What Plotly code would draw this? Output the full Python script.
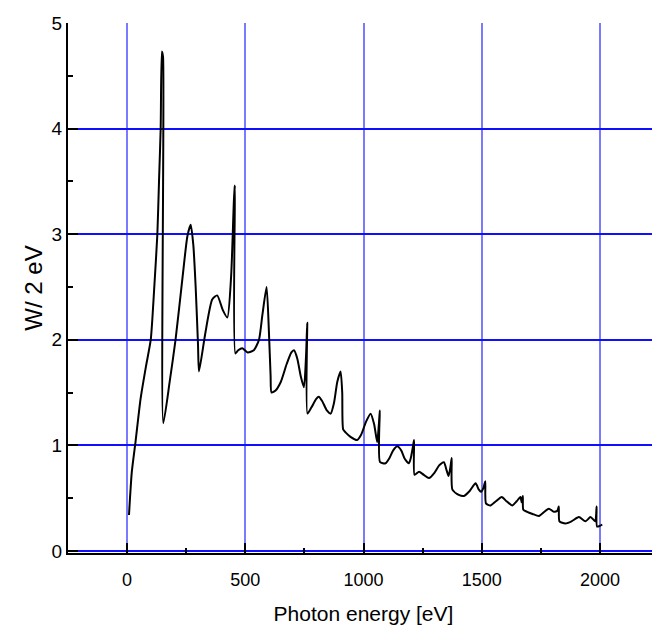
import plotly.graph_objects as go

# Photon energy [eV]
energy = [
    8, 20, 36, 57, 80, 100, 115, 128, 135, 142, 147, 152,
    153, 180, 205, 235, 255, 269, 280, 290, 300, 304,
    330, 360, 381, 405, 424, 440, 452, 456,
    458, 470, 487, 510, 536, 558, 572, 590, 600, 607, 611,
    628, 650, 675, 695, 706, 720, 735, 748, 757, 762,
    763, 780, 800, 811, 825, 845, 861, 875, 889, 903, 910, 914,
    925, 945, 973, 990, 1010, 1030, 1045, 1058, 1065, 1069,
    1070, 1093, 1110, 1125, 1143, 1160, 1175, 1192, 1200, 1210, 1214,
    1216, 1235, 1255, 1277, 1300, 1320, 1340, 1352, 1360, 1368, 1373,
    1376, 1403, 1425, 1450, 1474, 1488, 1497, 1508, 1515,
    1518, 1537, 1560, 1585, 1605, 1629, 1648, 1664, 1669, 1674,
    1676, 1692, 1715, 1742, 1765, 1784, 1805, 1820, 1826,
    1829, 1854, 1880, 1911, 1939, 1960, 1975, 1981, 1986,
    1988, 2002, 2010,
]
# Power [W / 2 eV]
power = [
    0.34, 0.75, 1.04, 1.44, 1.75, 2.00, 2.50, 3.00, 3.50, 4.00, 4.73, 4.68,
    1.21, 1.60, 2.00, 2.60, 2.98, 3.09, 2.90, 2.50, 1.95, 1.70,
    2.05, 2.38, 2.42, 2.28, 2.21, 2.60, 3.33, 3.46,
    1.87, 1.90, 1.92, 1.88, 1.90, 2.00, 2.23, 2.50, 2.07, 1.66, 1.50,
    1.52, 1.60, 1.77, 1.88, 1.90, 1.82, 1.65, 1.55, 1.85, 2.16,
    1.30, 1.36, 1.44, 1.46, 1.42, 1.33, 1.30, 1.40, 1.60, 1.70, 1.50, 1.15,
    1.12, 1.08, 1.05, 1.10, 1.22, 1.30, 1.20, 1.03, 1.20, 1.33,
    0.84, 0.83, 0.88, 0.95, 0.99, 0.95, 0.87, 0.83, 0.88, 1.00, 1.05,
    0.72, 0.75, 0.72, 0.69, 0.74, 0.81, 0.84, 0.76, 0.71, 0.80, 0.88,
    0.58, 0.53, 0.52, 0.57, 0.64, 0.58, 0.56, 0.60, 0.66,
    0.45, 0.43, 0.47, 0.51, 0.47, 0.43, 0.47, 0.51, 0.46, 0.52,
    0.39, 0.37, 0.35, 0.33, 0.37, 0.40, 0.37, 0.38, 0.42,
    0.28, 0.26, 0.28, 0.32, 0.28, 0.32, 0.29, 0.28, 0.42,
    0.23, 0.24, 0.25,
]

x_ticks = [0, 500, 1000, 1500, 2000]
y_ticks = [0, 1, 2, 3, 4, 5]

fig = go.Figure()
fig.add_trace(go.Scatter(
    x=energy, y=power, mode="lines",
    line=dict(color="black", width=2, shape="spline", smoothing=0.6),
    showlegend=False, hoverinfo="skip",
))

FONT = "Liberation Sans, Arial, sans-serif"
fig.update_layout(
    width=652, height=632,
    margin=dict(l=60, r=1, t=15, b=87),
    paper_bgcolor="white", plot_bgcolor="white",
    font=dict(family=FONT, color="black"),
)
fig.update_xaxes(
    range=[-250, 2250], automargin=False,
    tickvals=x_ticks, ticktext=[str(v) for v in x_ticks],
    ticks="inside", ticklen=10, tickwidth=2, tickcolor="black",
    ticklabelstandoff=9,
    minor=dict(dtick=250, tick0=0, ticks="inside", ticklen=5, tickwidth=2,
               tickcolor="black", showgrid=False),
    showgrid=True, gridcolor="#7a7aff", gridwidth=2,
    zeroline=False,
    showline=True, linecolor="black", linewidth=2,
    tickfont=dict(size=18, family=FONT),
    title=dict(text="Photon energy [eV]", standoff=18,
               font=dict(size=21, family=FONT)),
)
fig.update_yaxes(
    range=[-0.02, 5.0], automargin=False,
    tickvals=y_ticks, ticktext=[str(v) for v in y_ticks],
    ticks="inside", ticklen=10, tickwidth=2, tickcolor="black",
    minor=dict(dtick=0.5, tick0=0, ticks="inside", ticklen=5, tickwidth=2,
               tickcolor="black", showgrid=False),
    showgrid=True, gridcolor="#1010ff", gridwidth=1.5,
    zeroline=True, zerolinecolor="#1010ff", zerolinewidth=1.5,
    showline=True, linecolor="black", linewidth=2,
    tickfont=dict(size=19, family=FONT),
    title=dict(text="W/ 2 eV", standoff=2, font=dict(size=24, family=FONT)),
)

fig.write_html("out.html")
